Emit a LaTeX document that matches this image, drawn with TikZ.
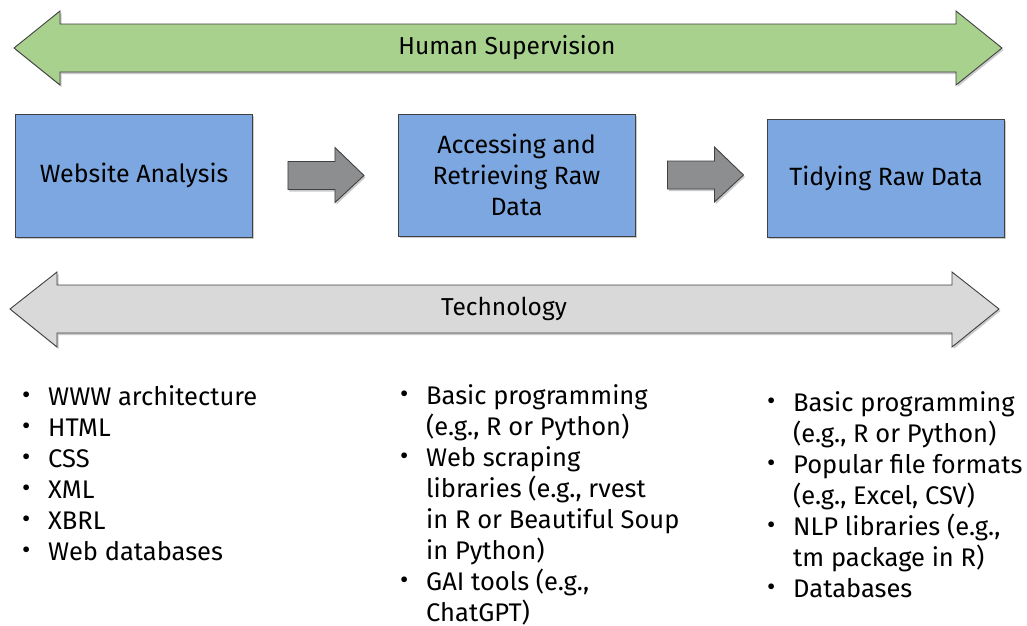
\documentclass[tikz,border=0pt]{standalone}
\usepackage{fontspec}
\setmainfont{Fira Sans}
\usetikzlibrary{shadows,calc}

\definecolor{supgreen}{HTML}{A9D18E}
\definecolor{stepblue}{HTML}{7DA7E0}
\definecolor{techgrey}{HTML}{D9D9D9}
\definecolor{flowgrey}{HTML}{8C8E90}
\definecolor{outline}{HTML}{404040}

\tikzset{
  softshadow/.style={drop shadow={shadow xshift=1.5pt, shadow yshift=-2pt, opacity=0.35, fill=black!60}},
  bandarrow/.style={draw=outline, line width=0.9pt, line join=miter, softshadow},
  stepbox/.style={draw=outline, line width=0.9pt, fill=stepblue, minimum width=237pt,
    minimum height=122pt, align=center, inner sep=0pt, softshadow,
    font=\fontsize{25}{31}\selectfont},
  flowarrow/.style={draw=outline, line width=0.9pt, fill=flowgrey, line join=miter, softshadow},
  bandlabel/.style={font=\fontsize{24.5}{31}\selectfont, inner sep=0pt},
  bulletlist/.style={anchor=base west, inner sep=0pt, align=left,
    font=\fontsize{25.5}{31}\selectfont},
}

\newcommand{\bul}{\makebox[26pt][l]{\raisebox{0.05em}{\textbullet}}}

\begin{document}
\begin{tikzpicture}[x=1pt, y=-1pt]
  \useasboundingbox (0,0) rectangle (1027,625);

  % supervision band across the top
  \draw[bandarrow, fill=supgreen]
    (14,48) -- (60,11) -- (60,24) -- (956,24) -- (956,11) -- (1002,48)
    -- (956,85) -- (956,72) -- (60,72) -- (60,85) -- cycle;
  \node[bandlabel] (sup) at (507,48) {Human Supervision};

  % process steps
  \node[stepbox, minimum height=123pt] (web) at (134,175.5) {Website Analysis};
  \node[stepbox] (acc) at (516.5,175) {Accessing and\\Retrieving Raw\\Data};
  \node[stepbox, minimum height=118pt] (tidy) at (886,178) {Tidying Raw Data};

  % block arrows between the steps
  \coordinate (a1) at ($(web.east)+(35,0)$);
  \coordinate (a2) at ($(acc.east)+(32,0)$);
  \foreach \s in {a1,a2} {
    \draw[flowarrow]
      ($(\s)+(0,-14)$) -- ++(47,0) -- ++(0,-14) -- ++(29,28) -- ++(-29,27)
      -- ++(0,-13) -- ++(-47,0) -- cycle;
  }

  % technology band
  \draw[bandarrow, fill=techgrey]
    (10,309) -- (57,272) -- (57,285) -- (952,285) -- (952,272) -- (999,309)
    -- (952,347) -- (952,333) -- (57,333) -- (57,347) -- cycle;
  \node[bandlabel] (tech) at (504,309) {Technology};

  % skills for each step
  \node[bulletlist] (l1) at (22,405) {%
    \begin{tabular}[t]{@{}l@{}l@{}}
      \bul & WWW architecture\\
      \bul & HTML\\
      \bul & CSS\\
      \bul & XML\\
      \bul & XBRL\\
      \bul & Web databases
    \end{tabular}};
  \node[bulletlist] (l2) at (400,404) {%
    \begin{tabular}[t]{@{}l@{}l@{}}
      \bul & Basic programming\\
           & (e.g., R or Python)\\
      \bul & Web scraping\\
           & libraries (e.g., rvest\\
           & in R or Beautiful Soup\\
           & in Python)\\
      \bul & GAI tools (e.g.,\\
           & ChatGPT)
    \end{tabular}};
  \node[bulletlist] (l3) at (767,411) {%
    \begin{tabular}[t]{@{}l@{}l@{}}
      \bul & Basic programming\\
           & (e.g., R or Python)\\
      \bul & Popular file formats\\
           & (e.g., Excel, CSV)\\
      \bul & NLP libraries (e.g.,\\
           & tm package in R)\\
      \bul & Databases
    \end{tabular}};
\end{tikzpicture}
\end{document}
